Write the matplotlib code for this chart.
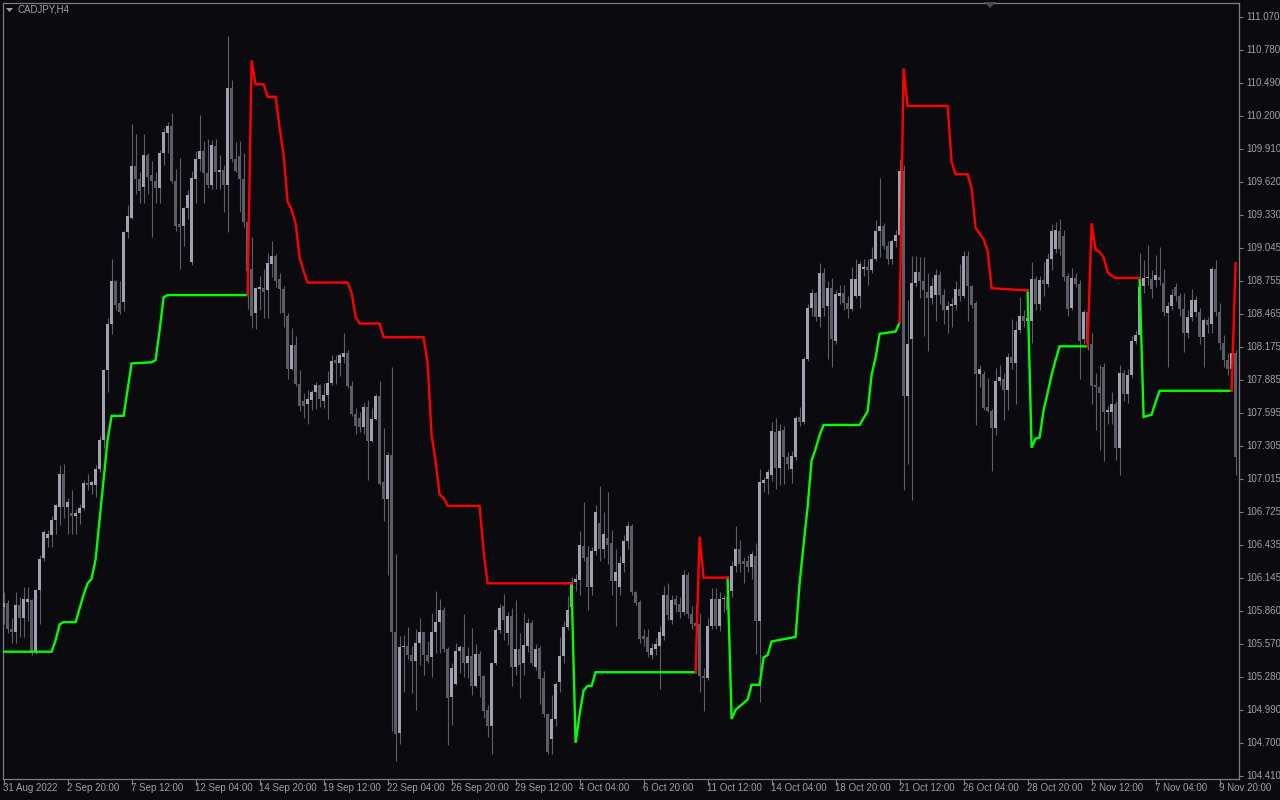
import matplotlib
matplotlib.use("Agg")
import matplotlib.pyplot as plt
from matplotlib.patches import Polygon
import numpy as np

# ---------------- data (CADJPY, H4) ----------------
symbol_title = "CADJPY,H4"

opens = [
    105.89, 105.93, 105.70, 105.67, 105.91, 105.80, 105.94, 105.95, 105.50, 106.04,
    106.32, 106.50, 106.52, 106.66, 106.77, 107.06, 106.77, 106.72, 106.69, 106.72,
    106.76, 106.98, 106.96, 106.96, 107.10, 107.36, 107.97, 108.38, 108.75, 108.56,
    108.57, 109.18, 109.31, 109.76, 109.65, 109.58, 109.86, 109.68, 109.63, 109.57,
    109.88, 110.05, 110.11, 109.63, 109.25, 109.24, 109.39, 108.92, 109.65, 109.82,
    109.89, 109.70, 109.60, 109.94, 109.71, 109.73, 109.60, 110.45, 109.82, 109.85,
    109.65, 109.27, 108.86, 108.47, 108.68, 108.69, 108.67, 108.90, 108.97, 108.77,
    108.68, 108.45, 107.98, 108.19, 107.85, 107.70, 107.67, 107.71, 107.78, 107.84,
    107.70, 107.75, 107.86, 108.06, 108.03, 108.09, 108.12, 107.83, 107.59, 107.55,
    107.47, 107.65, 107.35, 107.54, 107.74, 106.99, 106.84, 107.23, 105.67, 104.79,
    105.54, 105.55, 105.47, 105.42, 105.58, 105.67, 105.47, 105.45, 105.67, 105.76,
    105.87, 105.52, 105.10, 105.22, 105.51, 105.54, 105.40, 105.46, 105.20, 105.48,
    105.29, 104.99, 104.85, 105.40, 105.69, 105.90, 105.66, 105.81, 105.37, 105.52,
    105.40, 105.55, 105.75, 105.37, 105.53, 105.27, 104.95, 104.73, 104.91, 105.23,
    105.46, 105.72, 105.89, 106.11, 106.13, 106.43, 106.33, 106.07, 106.38, 106.63,
    106.40, 106.50, 106.45, 106.12, 106.07, 106.28, 106.47, 106.60, 106.02, 105.94,
    105.64, 105.63, 105.47, 105.52, 105.55, 105.64, 106.00, 105.78, 105.96, 105.92,
    105.85, 106.17, 105.83, 105.75, 105.74, 105.29, 105.27, 105.73, 105.96, 105.73,
    105.96, 105.98, 106.03, 106.25, 106.40, 106.30, 106.30, 106.24, 106.34, 105.77,
    106.98, 107.02, 107.05, 107.43, 107.11, 107.45, 107.21, 107.10, 107.21, 107.56,
    107.52, 108.07, 108.52, 108.65, 108.44, 108.82, 108.53, 108.69, 108.23, 108.62,
    108.65, 108.56, 108.51, 108.62, 108.62, 108.86, 108.88, 108.85, 108.95, 109.19,
    109.24, 109.06, 108.95, 109.10, 109.16, 109.72, 107.74, 108.24, 108.74, 108.83,
    108.75, 108.66, 108.60, 108.63, 108.81, 108.63, 108.50, 108.53, 108.54, 108.68,
    108.62, 108.97, 108.71, 108.56, 107.94, 107.94, 107.65, 107.61, 107.46, 107.88,
    107.89, 107.80, 108.09, 108.03, 108.32, 108.45, 108.40, 108.40, 108.77, 108.55,
    108.76, 108.73, 108.95, 109.03, 109.19, 109.15, 108.80, 108.52, 108.78, 108.73,
    108.24, 108.48, 108.20, 107.84, 107.82, 108.00, 107.60, 107.60, 107.67, 107.29,
    107.95, 107.76, 107.93, 108.23, 108.28, 108.71, 108.78, 108.77, 108.76, 108.79,
    108.74, 108.47, 108.53, 108.70, 108.62, 108.51, 108.30, 108.44, 108.48, 108.48,
    108.26, 108.41, 108.38, 108.86, 108.48, 108.21, 108.06, 107.98, 108.12,
]

highs = [
    106.02, 105.95, 105.80, 106.02, 105.98, 106.07, 106.07, 105.96, 106.05, 106.35,
    106.57, 106.57, 106.69, 106.80, 107.14, 107.15, 106.85, 106.92, 106.75, 106.80,
    107.01, 107.06, 107.00, 107.14, 107.39, 107.98, 108.43, 108.95, 108.76, 108.75,
    109.19, 109.42, 110.13, 110.04, 109.71, 110.04, 109.88, 109.81, 109.71, 109.90,
    110.10, 110.15, 110.23, 109.74, 109.83, 109.40, 109.55, 109.72, 109.89, 110.21,
    109.98, 110.00, 109.99, 110.00, 109.86, 109.77, 110.90, 110.52, 109.97, 109.98,
    109.88, 109.40, 109.14, 108.70, 108.80, 108.86, 109.00, 109.10, 108.99, 108.82,
    108.71, 108.47, 108.34, 108.27, 107.97, 107.77, 107.80, 107.80, 107.87, 107.85,
    107.86, 107.96, 108.10, 108.10, 108.12, 108.30, 108.15, 107.88, 107.64, 107.60,
    107.68, 107.71, 107.64, 107.76, 107.88, 107.46, 107.25, 108.00, 106.36, 105.64,
    105.65, 105.72, 105.55, 105.70, 105.80, 105.67, 105.59, 105.84, 106.03, 105.96,
    105.89, 105.54, 105.40, 105.58, 105.56, 105.83, 105.54, 105.71, 105.57, 105.51,
    105.30, 105.03, 105.41, 105.72, 105.92, 106.01, 105.85, 105.88, 105.95, 105.66,
    105.84, 105.80, 105.78, 105.57, 105.55, 105.33, 104.96, 105.12, 105.23, 105.63,
    105.77, 105.99, 106.16, 106.18, 106.56, 106.81, 106.43, 106.42, 106.79, 106.95,
    106.73, 106.90, 106.57, 106.40, 106.34, 106.52, 106.64, 106.62, 106.03, 105.95,
    105.70, 105.70, 105.58, 105.62, 105.73, 106.08, 106.10, 106.00, 106.00, 105.98,
    106.22, 106.20, 105.90, 105.92, 105.84, 105.36, 105.80, 106.06, 106.06, 106.02,
    106.00, 106.02, 106.30, 106.60, 106.48, 106.33, 106.35, 106.38, 106.45, 107.10,
    107.03, 107.10, 107.52, 107.55, 107.50, 107.48, 107.25, 107.26, 107.57, 107.65,
    108.09, 108.55, 108.68, 108.66, 108.91, 108.87, 108.75, 108.78, 108.67, 108.72,
    108.72, 108.62, 108.88, 108.95, 108.93, 108.95, 108.95, 109.05, 109.29, 109.66,
    109.26, 109.10, 109.12, 109.20, 109.82, 109.77, 108.59, 108.97, 108.97, 108.96,
    108.96, 108.82, 108.78, 108.86, 108.84, 108.68, 108.58, 108.60, 108.75, 108.90,
    109.02, 109.02, 108.72, 108.58, 108.02, 107.96, 107.90, 107.63, 107.99, 108.02,
    107.95, 108.12, 108.42, 108.40, 108.61, 108.50, 108.48, 108.92, 108.80, 108.80,
    108.92, 109.00, 109.25, 109.27, 109.30, 109.20, 108.82, 108.87, 108.82, 108.76,
    108.50, 108.55, 108.30, 107.95, 108.02, 108.03, 107.66, 107.78, 107.70, 108.02,
    107.97, 107.98, 108.27, 108.32, 109.00, 108.94, 109.07, 108.85, 108.98, 109.05,
    108.86, 108.57, 108.68, 108.74, 108.65, 108.65, 108.50, 108.68, 108.62, 108.52,
    108.43, 108.44, 108.88, 108.94, 108.56, 108.28, 108.12, 108.20, 108.15,
]

lows = [
    105.74, 105.66, 105.58, 105.58, 105.63, 105.63, 105.77, 105.47, 105.48, 105.74,
    106.30, 106.42, 106.42, 106.53, 106.61, 106.67, 106.53, 106.53, 106.53, 106.62,
    106.74, 106.92, 106.88, 106.86, 107.08, 107.29, 107.78, 108.29, 108.50, 108.46,
    108.49, 109.13, 109.30, 109.52, 109.44, 109.44, 109.52, 109.14, 109.44, 109.44,
    109.77, 109.88, 109.61, 109.19, 108.86, 109.06, 109.30, 108.89, 109.44, 109.72,
    109.44, 109.57, 109.56, 109.56, 109.56, 109.36, 109.18, 109.80, 109.71, 109.36,
    109.23, 108.51, 108.34, 108.33, 108.50, 108.43, 108.43, 108.79, 108.70, 108.47,
    108.35, 107.89, 107.97, 107.83, 107.61, 107.55, 107.50, 107.62, 107.63, 107.65,
    107.64, 107.54, 107.84, 107.85, 107.92, 108.03, 107.81, 107.57, 107.41, 107.43,
    107.41, 107.01, 107.34, 107.53, 106.96, 106.65, 106.17, 104.80, 104.54, 104.69,
    105.15, 105.44, 105.14, 104.99, 105.38, 105.30, 105.40, 105.28, 105.49, 105.49,
    105.50, 104.68, 104.86, 105.21, 105.31, 105.28, 105.27, 105.12, 105.19, 105.10,
    104.92, 104.75, 104.60, 105.38, 105.66, 105.60, 105.56, 105.20, 105.30, 105.09,
    105.30, 105.50, 105.38, 105.34, 105.04, 104.93, 104.60, 104.60, 104.85, 105.15,
    105.40, 105.69, 105.82, 106.03, 106.00, 106.30, 105.87, 106.00, 106.35, 106.30,
    106.32, 106.27, 106.00, 105.73, 106.00, 106.20, 106.40, 106.00, 105.91, 105.58,
    105.55, 105.45, 105.44, 105.47, 105.17, 105.60, 105.78, 105.74, 105.85, 105.80,
    105.82, 105.80, 105.70, 105.70, 105.15, 104.98, 105.25, 105.70, 105.70, 105.68,
    105.85, 105.80, 105.98, 106.20, 106.20, 106.10, 106.20, 106.14, 105.48, 105.06,
    106.90, 106.88, 107.00, 106.93, 106.96, 106.97, 107.10, 106.98, 107.18, 107.48,
    107.50, 108.05, 108.45, 108.40, 108.35, 108.45, 108.07, 108.00, 108.20, 108.55,
    108.50, 108.43, 108.49, 108.60, 108.52, 108.80, 108.72, 108.82, 108.93, 108.96,
    109.03, 108.90, 108.90, 109.05, 109.14, 106.92, 107.15, 106.83, 108.70, 108.60,
    108.27, 108.14, 108.55, 108.40, 108.55, 108.38, 108.30, 108.35, 108.50, 108.58,
    108.60, 108.40, 108.52, 107.49, 107.82, 107.62, 107.60, 107.09, 107.40, 107.84,
    107.53, 107.62, 107.98, 107.67, 108.30, 108.35, 108.30, 108.21, 108.50, 108.50,
    108.62, 108.70, 108.85, 109.00, 108.98, 108.75, 108.45, 108.50, 108.70, 107.89,
    108.20, 108.15, 107.67, 107.45, 107.27, 107.17, 107.50, 107.50, 107.18, 107.05,
    107.70, 107.68, 107.90, 108.20, 108.25, 108.65, 108.72, 108.60, 108.70, 108.72,
    108.45, 108.00, 108.50, 108.58, 108.45, 108.13, 108.25, 108.40, 108.45, 108.20,
    108.00, 108.30, 108.30, 108.45, 108.15, 108.00, 107.93, 107.95, 107.05,
]

closes = [
    105.93, 105.70, 105.67, 105.91, 105.80, 105.96, 105.96, 105.49, 106.04, 106.31,
    106.55, 106.53, 106.66, 106.79, 107.06, 106.77, 106.81, 106.69, 106.72, 106.76,
    106.98, 106.96, 106.99, 107.10, 107.36, 107.97, 108.38, 108.75, 108.54, 108.48,
    109.18, 109.32, 109.76, 109.65, 109.54, 109.86, 109.67, 109.63, 109.57, 109.88,
    110.06, 110.11, 109.63, 109.24, 109.23, 109.39, 109.51, 109.66, 109.82, 109.89,
    109.70, 109.60, 109.95, 109.71, 109.73, 109.60, 110.45, 109.82, 109.72, 109.65,
    109.27, 108.84, 108.45, 108.69, 108.70, 108.66, 108.91, 108.97, 108.75, 108.68,
    108.47, 107.98, 108.19, 107.85, 107.66, 107.66, 107.72, 107.78, 107.84, 107.72,
    107.75, 107.86, 108.05, 108.03, 108.10, 108.12, 107.83, 107.59, 107.48, 107.47,
    107.65, 107.35, 107.54, 107.74, 106.97, 106.84, 107.23, 105.67, 104.78, 105.54,
    105.55, 105.47, 105.42, 105.58, 105.67, 105.47, 105.42, 105.67, 105.76, 105.87,
    105.52, 105.09, 105.36, 105.51, 105.54, 105.40, 105.46, 105.20, 105.48, 105.29,
    104.98, 104.85, 105.40, 105.69, 105.88, 105.78, 105.81, 105.37, 105.52, 105.38,
    105.56, 105.75, 105.40, 105.52, 105.26, 104.95, 104.62, 104.91, 105.22, 105.46,
    105.72, 105.87, 106.11, 106.14, 106.44, 106.32, 106.07, 106.38, 106.73, 106.40,
    106.53, 106.44, 106.12, 106.20, 106.28, 106.47, 106.60, 106.02, 105.93, 105.61,
    105.61, 105.50, 105.53, 105.57, 105.67, 106.00, 105.82, 105.95, 105.91, 105.85,
    106.17, 105.83, 105.74, 105.73, 105.29, 105.27, 105.73, 105.96, 105.73, 105.96,
    105.97, 105.87, 106.25, 106.40, 106.27, 106.27, 106.24, 106.36, 105.77, 106.99,
    107.01, 107.08, 107.44, 107.11, 107.44, 107.21, 107.15, 107.22, 107.55, 107.52,
    108.07, 108.52, 108.65, 108.44, 108.82, 108.52, 108.69, 108.24, 108.64, 108.65,
    108.56, 108.51, 108.77, 108.77, 108.90, 108.88, 108.85, 108.95, 109.19, 109.24,
    109.06, 108.95, 109.10, 109.16, 109.72, 107.74, 108.20, 108.74, 108.83, 108.75,
    108.67, 108.60, 108.71, 108.81, 108.63, 108.50, 108.53, 108.55, 108.68, 108.62,
    108.97, 108.71, 108.54, 107.94, 107.98, 107.64, 107.61, 107.46, 107.88, 107.91,
    107.80, 108.09, 108.03, 108.32, 108.45, 108.40, 108.43, 108.77, 108.55, 108.76,
    108.73, 108.95, 109.19, 109.20, 109.03, 108.79, 108.51, 108.78, 108.73, 108.23,
    108.48, 108.22, 107.83, 107.82, 107.77, 107.60, 107.62, 107.67, 107.29, 107.95,
    107.76, 107.93, 108.23, 108.28, 108.70, 108.78, 108.79, 108.68, 108.81, 108.76,
    108.48, 108.53, 108.63, 108.62, 108.51, 108.30, 108.44, 108.59, 108.59, 108.26,
    108.41, 108.37, 108.86, 108.48, 108.21, 108.06, 107.98, 108.12, 107.21,
]

# trend line vertices: (bar index, price)
green_segments = [
    [(0, 105.50), (12, 105.50), (13, 105.60), (14, 105.74), (15, 105.76), (18, 105.76),
     (19, 105.88), (20, 106.00), (21, 106.10), (22, 106.14), (23, 106.31), (24, 106.66),
     (25, 107.01), (26, 107.36), (27, 107.57), (30, 107.57), (31, 107.80), (32, 108.03),
     (37, 108.04), (38, 108.06), (39, 108.32), (40, 108.61), (41, 108.63), (61, 108.63)],
    [(142, 106.07), (143, 104.70), (144, 104.95), (145, 105.16), (146, 105.20),
     (147, 105.20), (148, 105.32), (173, 105.32)],
    [(181, 106.15), (182, 104.91), (183, 104.99), (185, 105.05), (186, 105.08),
     (187, 105.21), (189, 105.21), (190, 105.45), (191, 105.47), (192, 105.59),
     (198, 105.63), (199, 106.10), (200, 106.44), (201, 106.77), (202, 107.18),
     (203, 107.28), (204, 107.40), (205, 107.49), (214, 107.49), (215, 107.55),
     (216, 107.61), (217, 107.93), (218, 108.08), (219, 108.29), (223, 108.31),
     (224, 108.39)],
    [(256, 108.67), (257, 107.29), (258, 107.37), (259, 107.38), (260, 107.62),
     (261, 107.77), (262, 107.93), (263, 108.06), (264, 108.18), (271, 108.18)],
    [(284, 108.78), (285, 107.56), (287, 107.58), (288, 107.69), (289, 107.79),
     (307, 107.79)],
]

red_segments = [
    [(61, 108.63), (62, 110.69), (63, 110.48), (65, 110.48), (66, 110.37), (68, 110.37),
     (69, 110.10), (70, 109.86), (71, 109.45), (72, 109.38), (73, 109.26), (74, 108.96),
     (75, 108.84), (76, 108.74), (86, 108.74), (87, 108.65), (88, 108.44), (89, 108.38),
     (94, 108.38), (95, 108.26), (105, 108.26), (106, 108.03), (107, 107.40),
     (108, 107.17), (109, 106.88), (110, 106.85), (111, 106.78), (119, 106.78),
     (120, 106.38), (121, 106.10), (142, 106.10)],
    [(173, 105.32), (174, 106.51), (175, 106.15), (181, 106.15)],
    [(224, 108.39), (225, 110.62), (226, 110.29), (236, 110.29), (237, 109.80),
     (238, 109.69), (241, 109.69), (242, 109.57), (243, 109.22), (244, 109.17),
     (245, 109.12), (246, 109.02), (247, 108.69), (256, 108.67)],
    [(271, 108.18), (272, 109.26), (273, 109.03), (274, 109.01), (275, 108.96),
     (276, 108.83), (277, 108.80), (278, 108.78), (284, 108.78)],
    [(307, 107.79), (308, 108.91)],
]

x_tick_labels = ["31 Aug 2022", "2 Sep 20:00", "7 Sep 12:00", "12 Sep 04:00",
                 "14 Sep 20:00", "19 Sep 12:00", "22 Sep 04:00", "26 Sep 20:00",
                 "29 Sep 12:00", "4 Oct 04:00", "6 Oct 20:00", "11 Oct 12:00",
                 "14 Oct 04:00", "18 Oct 20:00", "21 Oct 12:00", "26 Oct 04:00",
                 "28 Oct 20:00", "2 Nov 12:00", "7 Nov 04:00", "9 Nov 20:00"]
bars_per_label = 16

y_tick_labels = ["111.070", "110.780", "110.490", "110.200", "109.910", "109.620",
                 "109.330", "109.045", "108.755", "108.465", "108.175", "107.885",
                 "107.595", "107.305", "107.015", "106.725", "106.435", "106.145",
                 "105.860", "105.570", "105.280", "104.990", "104.700", "104.410"]
price_min, price_max = 104.383, 111.193

# ---------------- style ----------------
BG = "#0a0a0f"
FRAME = "#7c7c82"
TXT = "#9fa0a6"
BULL = "#a0a0ae"
BEAR = "#5c5c64"
WICK = "#5e5e66"
W, H, DPI = 1280, 800, 100
FONT = ["Liberation Sans", "DejaVu Sans"]

fig = plt.figure(figsize=(W / DPI, H / DPI), dpi=DPI, facecolor=BG)
ax = fig.add_axes([3 / W, (H - 779) / H, 1236 / W, 776 / H], facecolor=BG)

o = np.array(opens); h = np.array(highs); l = np.array(lows); c = np.array(closes)
n = len(c)
xs = np.arange(n)
up = c >= o

# wicks
ax.vlines(xs, l, h, colors=WICK, linewidth=0.8, zorder=2)
# bodies
body_lo = np.minimum(o, c)
body_h = np.maximum(np.abs(c - o), 0.009)
ax.bar(xs[up], body_h[up], bottom=body_lo[up], width=0.72, color=BULL,
       linewidth=0, zorder=3)
ax.bar(xs[~up], body_h[~up], bottom=body_lo[~up], width=0.72, color=BEAR,
       linewidth=0, zorder=3)

# trend lines
for seg in green_segments:
    sx, sy = zip(*seg)
    ax.plot(sx, sy, color="#00ff00", linewidth=1.7, solid_joinstyle="miter",
            zorder=4)
for seg in red_segments:
    sx, sy = zip(*seg)
    ax.plot(sx, sy, color="#ff0000", linewidth=1.7, solid_joinstyle="miter",
            zorder=4)

ax.set_xlim(-0.15, 308.85)
ax.set_ylim(price_min, price_max)

for sp in ax.spines.values():
    sp.set_color(FRAME)
    sp.set_linewidth(0.9)

# ticks
xt = list(range(0, n, bars_per_label))[:len(x_tick_labels)]
yt = [float(s) for s in y_tick_labels]
ax.set_xticks(xt)
ax.set_yticks(yt)
ax.tick_params(axis="x", direction="out", length=4, width=0.8, color=FRAME,
               labelbottom=False)
ax.tick_params(axis="y", direction="out", length=3.2, width=0.8, color=FRAME,
               left=False, right=True, labelleft=False, labelright=False)

for xv, lab in zip(xt, x_tick_labels):
    ax.annotate(lab, xy=(xv, 0), xycoords=("data", "axes fraction"),
                xytext=(-1, -9), textcoords="offset pixels",
                ha="left", va="center", fontsize=7, color=TXT, family=FONT,
                annotation_clip=False)
for yv, lab in zip(yt, y_tick_labels):
    ax.annotate(lab, xy=(1, yv), xycoords=("axes fraction", "data"),
                xytext=(7, 0), textcoords="offset pixels",
                ha="left", va="center", fontsize=7, color=TXT, family=FONT,
                annotation_clip=False)

# title with small drop-down triangle
fig.text(18 / W, 1 - 10 / H, symbol_title, ha="left", va="center", fontsize=7,
         color=TXT, family=FONT)
tri = Polygon([(6 / W, 1 - 8 / H), (13 / W, 1 - 8 / H), (9.5 / W, 1 - 12 / H)],
              closed=True, transform=fig.transFigure, facecolor=TXT,
              edgecolor="none")
fig.patches.append(tri)
# chart-shift marker at top
shift = Polygon([(984 / W, 1 - 2 / H), (996 / W, 1 - 2 / H), (990 / W, 1 - 8 / H)],
                closed=True, transform=fig.transFigure, facecolor="#4a4a50",
                edgecolor="none", zorder=10)
fig.patches.append(shift)

fig.savefig("out.png", dpi=DPI, facecolor=BG)
